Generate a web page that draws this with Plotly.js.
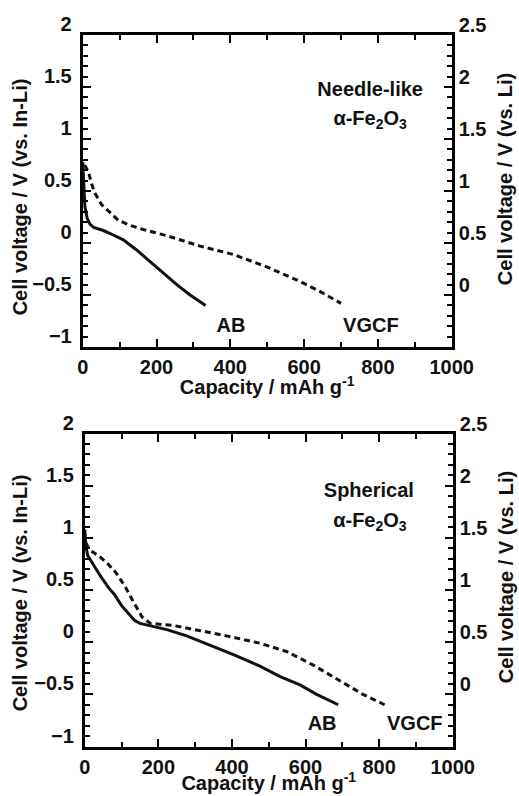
<!DOCTYPE html>
<html><head><meta charset="utf-8">
<script src="https://cdn.plot.ly/plotly-3.0.1.min.js"></script>
<style>
html,body{margin:0;padding:0;background:#fff}
#wrap{position:relative;width:519px;height:796px}
#chart{position:absolute;left:0;top:0;width:519px;height:796px}
#labels{position:absolute;left:0;top:0;width:519px;height:796px;pointer-events:none}
.lbl{position:absolute;font-family:'Liberation Sans',Arial,sans-serif;font-weight:bold;font-size:20px;color:#111;white-space:nowrap;line-height:1;transform:translate(-50%,-50%)}
.rot{transform:translate(-50%,-50%) rotate(-90deg)}
.lbl sub{font-size:14px;vertical-align:-4px;line-height:0}
.lbl sup{font-size:14px;vertical-align:8px;line-height:0}
</style>
</head><body><div id="wrap"><div id="chart"></div><div id="labels"></div></div>
<script>
// Top panel: needle-like alpha-Fe2O3 (voltage vs. In-Li)
const needleAbCap  = [0, 3, 6, 12, 20, 30, 56, 83, 110, 146, 182, 218, 255, 291, 333];
const needleAbV    = [0.78, 0.55, 0.35, 0.24, 0.18, 0.15, 0.12, 0.077, 0.03, -0.067, -0.18, -0.29, -0.40, -0.50, -0.60];
const needleVgcfCap = [5, 15, 24, 33, 51, 74, 96, 128, 164, 228, 318, 408, 499, 589, 645, 700];
const needleVgcfV   = [0.75, 0.69, 0.57, 0.48, 0.37, 0.29, 0.22, 0.17, 0.13, 0.07, -0.03, -0.11, -0.23, -0.37, -0.47, -0.58];
// Bottom panel: spherical alpha-Fe2O3
const sphAbCap  = [0, 3, 8, 27, 45, 65, 80, 100, 118, 135, 150, 169, 223, 277, 350, 404, 476, 531, 585, 630, 689];
const sphAbV    = [1.08, 0.92, 0.83, 0.72, 0.62, 0.52, 0.46, 0.35, 0.28, 0.21, 0.18, 0.165, 0.12, 0.06, -0.04, -0.12, -0.23, -0.33, -0.41, -0.50, -0.60];
const sphVgcfCap = [3, 14, 37, 63, 86, 110, 133, 156, 178, 241, 314, 386, 476, 549, 621, 693, 756, 815];
const sphVgcfV   = [0.95, 0.88, 0.83, 0.75, 0.66, 0.53, 0.38, 0.24, 0.18, 0.16, 0.11, 0.06, -0.01, -0.09, -0.22, -0.37, -0.50, -0.60];

// Right-hand (vs. Li) tick labels
const rightTickVals = [-0.5, 0, 0.5, 1, 1.5, 2, 2.5];
const rightTickText = ['', '0', '0.5', '1', '1.5', '2', '2.5'];

// In-plot label texts and their anchor points (data units of each panel)
const topLabels = ['Needle-like', 'α-Fe<sub>2</sub>O<sub>3</sub>', 'AB', 'VGCF'];
const botLabels = ['Spherical', 'α-Fe<sub>2</sub>O<sub>3</sub>', 'AB', 'VGCF'];
const topLabelX = [779, 779, 402, 781];
const topLabelY = [1.48, 1.20, -0.79, -0.79];
const botLabelX = [772, 775, 645, 897];
const botLabelY = [1.457, 1.17, -0.774, -0.774];

// Axis titles
const xTitle = 'Capacity / mAh g<sup>-1</sup>';
const yLeftTitle = 'Cell voltage / V (vs. In-Li)';
const yRightTitle = 'Cell voltage / V (vs. Li)';

const FONT = 'Liberation Sans, Arial, sans-serif';
const W = 519, H = 796;
const BLACK = '#111';

const traces = [
  {x: needleAbCap, y: needleAbV, xaxis: 'x', yaxis: 'y', mode: 'lines', line: {color: BLACK, width: 3}},
  {x: needleVgcfCap, y: needleVgcfV, xaxis: 'x', yaxis: 'y', mode: 'lines', line: {color: BLACK, width: 3, dash: '6px,4px'}},
  {x: sphAbCap, y: sphAbV, xaxis: 'x2', yaxis: 'y3', mode: 'lines', line: {color: BLACK, width: 3}},
  {x: sphVgcfCap, y: sphVgcfV, xaxis: 'x2', yaxis: 'y3', mode: 'lines', line: {color: BLACK, width: 3, dash: '6px,4px'}},
  {x: [], y: [], xaxis: 'x', yaxis: 'y2', mode: 'lines'},
  {x: [], y: [], xaxis: 'x2', yaxis: 'y4', mode: 'lines'}
];

const tickFont = {family: FONT, size: 20, color: BLACK, weight: 'bold'};

function xAxis(domain, anchor) {
  return {
    domain: domain, anchor: anchor, range: [0, 1000], tickmode: 'linear', tick0: 0, dtick: 200,
    ticks: 'inside', ticklen: 8, tickwidth: 2, tickcolor: '#000',
    showline: true, linewidth: 3, linecolor: '#000', mirror: 'ticks',
    showgrid: false, zeroline: false, tickfont: tickFont,
    minor: {dtick: 100, ticks: 'inside', ticklen: 5, tickwidth: 2, tickcolor: '#000'}
  };
}
function yLeft(domain, anchor) {
  return {
    domain: domain, anchor: anchor, range: [-1, 2], tickmode: 'linear', tick0: 0, dtick: 0.5,
    ticks: 'inside', ticklen: 8, tickwidth: 2, tickcolor: '#000',
    showline: true, linewidth: 3, linecolor: '#000', mirror: 'ticks',
    showgrid: false, zeroline: false, tickfont: tickFont,
    minor: {dtick: 0.1, ticks: 'inside', ticklen: 5, tickwidth: 2, tickcolor: '#000'},
    ticklabelshift: -11, ticklabelstandoff: 4
  };
}
function yRight(overlay, anchor) {
  return {overlaying: overlay, anchor: anchor, side: 'right', range: [-0.5, 2.5],
    tickmode: 'array', tickvals: rightTickVals, ticktext: rightTickText,
    ticks: '', showline: false, showgrid: false, zeroline: false,
    tickfont: tickFont, ticklabelshift: -10, ticklabelstandoff: 6};
}

const topX = [82.7 / W, 451.7 / W];
const botX = [84.8 / W, 452.7 / W];
const topY = [(H - 347) / H, (H - 35) / H];
const botY = [(H - 746.5) / H, (H - 433.5) / H];

const layout = {
  width: W, height: H, margin: {l: 0, r: 0, t: 0, b: 0},
  paper_bgcolor: '#fff', plot_bgcolor: 'rgba(0,0,0,0)', showlegend: false,
  xaxis: xAxis(topX, 'y'), yaxis: yLeft(topY, 'x'), yaxis2: yRight('y', 'x'),
  xaxis2: xAxis(botX, 'y3'), yaxis3: yLeft(botY, 'x2'), yaxis4: yRight('y3', 'x2')
};

function addLabel(html, px, py, rotate) {
  const d = document.createElement('div');
  d.className = 'lbl' + (rotate ? ' rot' : '');
  d.innerHTML = html;
  d.style.left = px + 'px';
  d.style.top = py + 'px';
  document.getElementById('labels').appendChild(d);
}

Plotly.newPlot('chart', traces, layout, {displayModeBar: false}).then(function(gd) {
  const fl = gd._fullLayout;
  function dataLabels(texts, xs, ys, xk, yk) {
    const xa = fl[xk], ya = fl[yk];
    texts.forEach(function(t, i) {
      addLabel(t, xa._offset + xa.d2p(xs[i]), ya._offset + ya.d2p(ys[i]), false);
    });
  }
  dataLabels(topLabels, topLabelX, topLabelY, 'xaxis', 'yaxis');
  dataLabels(botLabels, botLabelX, botLabelY, 'xaxis2', 'yaxis3');
  // axis titles
  const xa1 = fl.xaxis, xa2 = fl.xaxis2;
  addLabel(xTitle, xa1._offset + xa1._length / 2, 387, false);
  addLabel(xTitle, xa2._offset + xa2._length / 2, 783, false);
  addLabel(yLeftTitle, 20, 197, true);
  addLabel(yRightTitle, 505, 179, true);
  addLabel(yLeftTitle, 20, 593, true);
  addLabel(yRightTitle, 506, 577, true);
});
</script>
</body></html>
